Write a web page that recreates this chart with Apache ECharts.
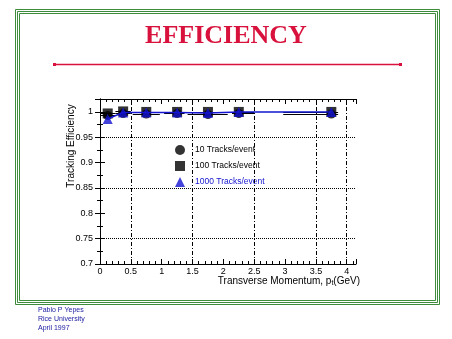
<!DOCTYPE html>
<html>
<head>
<meta charset="utf-8">
<script src="https://cdn.jsdelivr.net/npm/echarts@6/dist/echarts.min.js"></script>
<style>
html, body { margin: 0; padding: 0; background: #fff; }
#chart { width: 452px; height: 339px; }
</style>
</head>
<body>
<div id="chart"></div>
<script>
// Transverse momentum bin centres (GeV) and the bin edges drawn as horizontal bars
const ptCenters = [0.125, 0.375, 0.75, 1.25, 1.75, 2.25, 3.75];
const ptLow     = [0.0, 0.25, 0.53, 1.04, 1.42, 2.14, 2.97];
const ptHigh    = [0.25, 0.5, 0.97, 1.37, 2.07, 2.5, 3.86];

// Tracking efficiency per multiplicity
const eff10   = [0.993, 0.997, 0.996, 0.997, 0.995, 0.997, 0.996];
const eff100  = [0.997, 1.001, 1.000, 1.000, 1.000, 1.000, 1.000];
const eff1000 = [0.986, 0.999, 0.999, 0.999, 0.998, 1.000, 1.000];

const seriesNames = ['10 Tracks/event', '100 Tracks/event', '1000 Tracks/event'];

// Reference grid positions
const gridPt  = [0.5, 1.5, 2.5, 3.5, 4];
const gridEff = [0.95, 0.85, 0.75];

const BLUE = '#1414d2';
const GREEN = '#3c8c3c';
const RED = '#d8123c';

const chart = echarts.init(document.getElementById('chart'), null, { renderer: 'canvas' });

const pairs = ys => ptCenters.map((x, i) => [x, ys[i]]);
const bars = ys => ptCenters.map((x, i) => [ptLow[i], ptHigh[i], ys[i]]);

function renderBar(params, api) {
  const a = api.coord([api.value(0), api.value(2)]);
  const b = api.coord([api.value(1), api.value(2)]);
  return {
    type: 'line',
    shape: { x1: a[0], y1: Math.round(a[1]) + 0.5, x2: b[0], y2: Math.round(b[1]) + 0.5 },
    style: { stroke: '#000', lineWidth: 1 }
  };
}

const frameRect = (o) => ({
  type: 'rect',
  shape: { x: 15 + o + 0.5, y: 9 + o + 0.5, width: 424 - 2 * o, height: 295 - 2 * o },
  style: { fill: null, stroke: GREEN, lineWidth: 1 },
  silent: true
});

const baseX = {
  type: 'value', min: 0, max: 4.15, interval: 0.5,
  axisLine: { show: true, lineStyle: { color: '#000', width: 1 } },
  axisTick: { show: true, inside: true, length: 5, lineStyle: { color: '#000' } },
  minorTick: { show: true, splitNumber: 5, length: 3, lineStyle: { color: '#000' } },
  splitLine: { show: false },
  minorSplitLine: { show: false }
};
const baseY = {
  type: 'value', min: 0.7, max: 1.0255, interval: 0.05,
  axisLine: { show: true, lineStyle: { color: '#000', width: 1 } },
  axisTick: { show: true, inside: true, length: 5, lineStyle: { color: '#000' } },
  minorTick: { show: true, splitNumber: 2, length: 3, lineStyle: { color: '#000' } },
  splitLine: { show: false },
  minorSplitLine: { show: false }
};

chart.setOption({
  animation: false,
  backgroundColor: '#fff',
  grid: { left: 100, right: 96, top: 99, bottom: 75, containLabel: false },
  xAxis: [
    Object.assign({}, baseX, {
      position: 'bottom',
      axisLabel: {
        show: true, color: '#000', fontSize: 9, fontFamily: 'Liberation Sans', margin: 3,
        showMaxLabel: false
      }
    }),
    Object.assign({}, baseX, { position: 'top', axisLabel: { show: false } })
  ],
  yAxis: [
    Object.assign({}, baseY, {
      position: 'left',
      axisLabel: {
        show: true, color: '#000', fontSize: 9, fontFamily: 'Liberation Sans', margin: 7,
        showMaxLabel: false,
        formatter: v => String(+v.toFixed(2))
      }
    }),
    Object.assign({}, baseY, { position: 'right', axisLabel: { show: false } })
  ],
  legend: {
    orient: 'vertical',
    left: 170, top: 140,
    itemWidth: 10, itemHeight: 10, itemGap: 6,
    selectedMode: false,
    textStyle: { fontSize: 8.5, fontFamily: 'Liberation Sans', color: '#000', padding: [0, 0, 0, 5] },
    data: [
      { name: seriesNames[0], icon: 'circle' },
      { name: seriesNames[1], icon: 'rect' },
      { name: seriesNames[2], icon: 'triangle', textStyle: { color: BLUE } }
    ]
  },
  series: [
    {
      // dotted / dash-dot reference grid
      type: 'line', data: [], silent: true,
      markLine: {
        silent: true, symbol: 'none', label: { show: false },
        animation: false,
        data: gridPt.map(v => ({ xAxis: v, lineStyle: { color: '#000', width: 1, type: [4, 2, 1, 2] } }))
          .concat(gridEff.map(v => ({ yAxis: v, lineStyle: { color: '#000', width: 1, type: [1, 1] } })))
      }
    },
    {
      type: 'custom', renderItem: renderBar, data: bars(eff10),
      encode: { x: [0, 1], y: 2 }, silent: true, z: 2
    },
    {
      type: 'custom', renderItem: renderBar, data: bars(eff100),
      encode: { x: [0, 1], y: 2 }, silent: true, z: 2
    },
    {
      name: seriesNames[0], type: 'scatter', data: pairs(eff10),
      symbol: 'circle', symbolSize: 9, itemStyle: { color: '#000' }, z: 3
    },
    {
      name: seriesNames[1], type: 'scatter', data: pairs(eff100),
      symbol: 'rect', symbolSize: 10, itemStyle: { color: '#000' }, z: 4
    },
    {
      // connecting line through the 1000 tracks/event points
      type: 'line', data: pairs(eff1000), symbol: 'none', silent: true,
      lineStyle: { color: BLUE, width: 1.5 }, z: 5
    },
    {
      name: seriesNames[2], type: 'scatter', data: pairs(eff1000),
      symbol: 'triangle', symbolSize: 10,
      itemStyle: { color: BLUE }, z: 6
    }
  ],
  graphic: [
    frameRect(0), frameRect(2), frameRect(4),
    {
      type: 'text', left: 'center', top: 23,
      style: {
        text: 'EFFICIENCY', fill: RED,
        font: 'bold 26px "Liberation Serif"', textAlign: 'center'
      }
    },
    {
      type: 'line', shape: { x1: 53, y1: 64.5, x2: 402, y2: 64.5 },
      style: { stroke: RED, lineWidth: 1.5 }, silent: true
    },
    { type: 'rect', shape: { x: 53, y: 63, width: 3, height: 3 }, style: { fill: RED }, silent: true },
    { type: 'rect', shape: { x: 399, y: 63, width: 3, height: 3 }, style: { fill: RED }, silent: true },
    {
      type: 'text', x: 71, y: 146, rotation: Math.PI / 2,
      style: {
        text: 'Tracking Efficiency', fill: '#000',
        font: '10px "Liberation Sans"', textAlign: 'center', textVerticalAlign: 'middle'
      }
    },
    {
      type: 'text', x: 360, y: 281,
      style: {
        text: 'Transverse Momentum, p{s|t}(GeV)', fill: '#000',
        font: '10px "Liberation Sans"', textAlign: 'right', textVerticalAlign: 'middle',
        rich: { s: { fontSize: 7, fontFamily: 'Liberation Sans', padding: [5, 0, 0, 0] } }
      }
    },
    {
      type: 'text', x: 38, y: 306,
      style: {
        text: 'Pablo P Yepes\nRice University\nApril 1997', fill: '#1a1aa0',
        font: '7px "Liberation Sans"', lineHeight: 9
      }
    }
  ]
});
</script>
</body>
</html>
